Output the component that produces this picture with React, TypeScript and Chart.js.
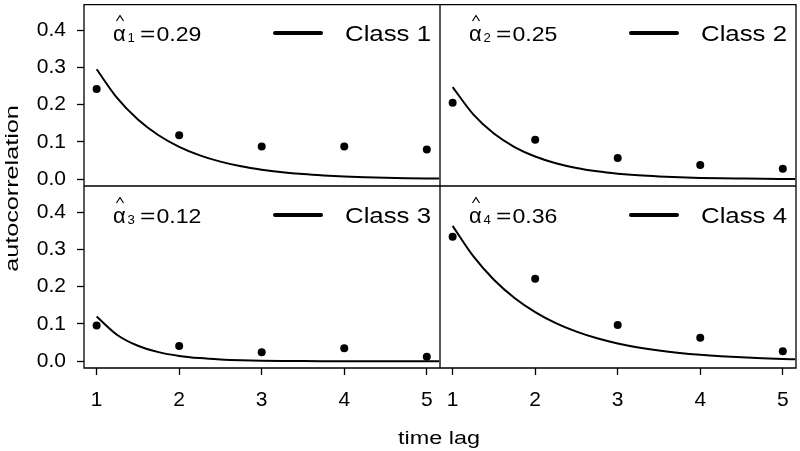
import React, { useEffect, useRef } from 'react';
import { Chart, registerables } from 'chart.js';

Chart.register(...registerables);

// ---------- data ----------
const lags = [1, 2, 3, 4, 5];
const yTickValues = [0, 0.1, 0.2, 0.3, 0.4];
const classNames = ['Class 1', 'Class 2', 'Class 3', 'Class 4'];
const alphaHats = ['0.29', '0.25', '0.12', '0.36'];

const class1Observed = [0.242, 0.118, 0.088, 0.088, 0.080];
const class2Observed = [0.205, 0.106, 0.057, 0.038, 0.028];
const class3Observed = [0.096, 0.041, 0.024, 0.035, 0.012];
const class4Observed = [0.334, 0.221, 0.097, 0.063, 0.027];

const curveLags = [1, 1.25, 1.5, 1.75, 2, 2.25, 2.5, 2.75, 3, 3.25, 3.5, 3.75, 4, 4.25, 4.5, 4.75, 5, 5.15];
const class1Fitted = [0.295, 0.2174, 0.1602, 0.1181, 0.087, 0.0641, 0.0473, 0.0348, 0.0257, 0.0189, 0.0139, 0.0103, 0.0076, 0.0056, 0.0041, 0.003, 0.0022, 0.0019];
const class2Fitted = [0.247, 0.1741, 0.1227, 0.0865, 0.061, 0.043, 0.0303, 0.0214, 0.0151, 0.0106, 0.0075, 0.0053, 0.0037, 0.0026, 0.0019, 0.0013, 0.0009, 0.0007];
const class3Fitted = [0.12, 0.0706, 0.0416, 0.0245, 0.0144, 0.0085, 0.005, 0.0029, 0.0017, 0.001, 0.0006, 0.0004, 0.0002, 0.0001, 0.0001, 0.00005, 0.00003, 0.00002];
const class4Fitted = [0.363, 0.2817, 0.2187, 0.1697, 0.1318, 0.1023, 0.0794, 0.0616, 0.0478, 0.0371, 0.0288, 0.0224, 0.0174, 0.0135, 0.0105, 0.0081, 0.0063, 0.0054];

const observedSets = [class1Observed, class2Observed, class3Observed, class4Observed];
const fittedSets = [class1Fitted, class2Fitted, class3Fitted, class4Fitted];
const panelX = ['xL', 'xR', 'xL', 'xR'];
const panelY = ['yTop', 'yTop', 'yBot', 'yBot'];

const FONT = '"Liberation Sans", Arial, Helvetica, sans-serif';

function scaledText(ctx: CanvasRenderingContext2D, text: string, x: number, y: number, sx: number, align: CanvasTextAlign = 'left') {
  ctx.save();
  ctx.translate(x, y);
  ctx.scale(sx, 1);
  ctx.textAlign = align;
  ctx.textBaseline = 'alphabetic';
  ctx.fillText(text, 0, 0);
  ctx.restore();
}

const panelPlugin = {
  id: 'panelDecor',
  afterDatasetsDraw(chart: any) {
    const ctx: CanvasRenderingContext2D = chart.ctx;
    const { left, right, top, bottom } = chart.chartArea;
    const xL = chart.scales.xL;
    const yTop = chart.scales.yTop;
    ctx.save();
    ctx.strokeStyle = '#000';
    ctx.lineWidth = 1.3;
    ctx.beginPath();
    ctx.moveTo(left, top + 0.7);
    ctx.lineTo(right, top + 0.7);
    ctx.lineTo(right, bottom);
    ctx.lineTo(left, bottom);
    ctx.closePath();
    ctx.moveTo(xL.right, top);
    ctx.lineTo(xL.right, bottom);
    ctx.moveTo(left, yTop.bottom);
    ctx.lineTo(right, yTop.bottom);
    ctx.stroke();

    ctx.fillStyle = '#000';
    for (let i = 0; i < 4; i++) {
      const xs = chart.scales[panelX[i]];
      const ys = chart.scales[panelY[i]];
      const px = xs.left;
      const py = ys.top;
      // alpha-hat annotation
      ctx.font = `22px ${FONT}`;
      scaledText(ctx, 'α', px + 29, py + 36.5, 1.0);
      ctx.beginPath();
      ctx.lineWidth = 1.2;
      ctx.moveTo(px + 32.5, py + 17);
      ctx.lineTo(px + 36, py + 11.5);
      ctx.lineTo(px + 39.5, py + 17);
      ctx.stroke();
      ctx.font = `12px ${FONT}`;
      scaledText(ctx, String(i + 1), px + 43.5, py + 37.5, 1.1);
      ctx.font = `21px ${FONT}`;
      scaledText(ctx, '=', px + 56, py + 36.5, 1.25);
      scaledText(ctx, alphaHats[i], px + 72.5, py + 36.5, 1.1);
      // legend
      const ds = chart.data.datasets[i * 2 + 1];
      ctx.beginPath();
      ctx.lineWidth = 4;
      ctx.lineCap = 'round';
      ctx.strokeStyle = ds.borderColor;
      ctx.moveTo(px + 191, py + 29);
      ctx.lineTo(px + 237, py + 29);
      ctx.stroke();
      ctx.lineCap = 'butt';
      ctx.font = `21.5px ${FONT}`;
      scaledText(ctx, ds.label, px + 261, py + 37, 1.2);
    }

    // axis titles
    ctx.font = `18px ${FONT}`;
    scaledText(ctx, 'time lag', (left + right) / 2 - 1, 443.5, 1.3, 'center');
    ctx.save();
    ctx.translate(17.5, (top + bottom) / 2 + 2.5);
    ctx.rotate(-Math.PI / 2);
    scaledText(ctx, 'autocorrelation', 0, 0, 1.4, 'center');
    ctx.restore();
    ctx.restore();
  },
};

function zeroPadding(s: any) {
  s.paddingTop = 0;
  s.paddingBottom = 0;
  s.paddingLeft = 0;
  s.paddingRight = 0;
}

function makeX(weight: number) {
  return {
    type: 'linear',
    position: 'bottom',
    stack: 'x',
    stackWeight: 1,
    weight,
    min: 0.847,
    max: 5.16,
    afterBuildTicks: (s: any) => { s.ticks = lags.map((v) => ({ value: v })); },
    afterFit: (s: any) => { s.height = 83; zeroPadding(s); },
    border: { display: false },
    grid: { drawOnChartArea: false, drawTicks: true, tickLength: 7, tickColor: '#000', tickWidth: 1.3, color: '#000' },
    ticks: { color: '#000', padding: 12.5, maxRotation: 0, autoSkip: false, font: { family: FONT, size: 21 }, callback: (v: any) => String(v) },
  };
}

function makeY(weight: number) {
  return {
    type: 'linear',
    position: 'left',
    stack: 'y',
    stackWeight: 1,
    weight,
    min: -0.018,
    max: 0.47,
    afterBuildTicks: (s: any) => { s.ticks = yTickValues.map((v) => ({ value: v })); },
    afterFit: (s: any) => { s.width = 84; zeroPadding(s); },
    border: { display: false },
    grid: { drawOnChartArea: false, drawTicks: true, tickLength: 7, tickColor: '#000', tickWidth: 1.3, color: '#000' },
    ticks: { color: '#000', padding: 11, autoSkip: false, font: { family: FONT, size: 21 }, callback: (v: any) => Number(v).toFixed(1) },
  };
}

export default function App() {
  const ref = useRef<HTMLCanvasElement>(null);
  useEffect(() => {
    document.body.style.margin = '0';
    const datasets: any[] = [];
    for (let i = 0; i < 4; i++) {
      datasets.push({
        label: classNames[i] + ' observed',
        data: lags.map((x, j) => ({ x, y: observedSets[i][j] })),
        xAxisID: panelX[i],
        yAxisID: panelY[i],
        showLine: false,
        pointRadius: 4,
        pointBackgroundColor: '#000',
        pointBorderWidth: 0,
        borderColor: '#000',
      });
      datasets.push({
        label: classNames[i],
        data: curveLags.map((x, j) => ({ x, y: fittedSets[i][j] })),
        xAxisID: panelX[i],
        yAxisID: panelY[i],
        showLine: true,
        pointRadius: 0,
        borderColor: '#000',
        borderWidth: 2,
        cubicInterpolationMode: 'monotone',
      });
    }
    const chart = new Chart(ref.current as HTMLCanvasElement, {
      type: 'scatter',
      data: { datasets },
      options: {
        responsive: false,
        animation: false,
        devicePixelRatio: 1,
        layout: { padding: { top: 0, right: 1, bottom: 0, left: 0 } },
        plugins: { legend: { display: false }, tooltip: { enabled: false } },
        scales: {
          xL: makeX(0),
          xR: makeX(1),
          yTop: makeY(1),
          yBot: makeY(0),
        } as any,
      },
      plugins: [panelPlugin],
    } as any);
    return () => chart.destroy();
  }, []);
  return (
    <div style={{ width: 800, height: 451, position: 'relative', background: '#fff' }}>
      <canvas ref={ref} width={800} height={451} style={{ display: 'block' }} />
    </div>
  );
}
